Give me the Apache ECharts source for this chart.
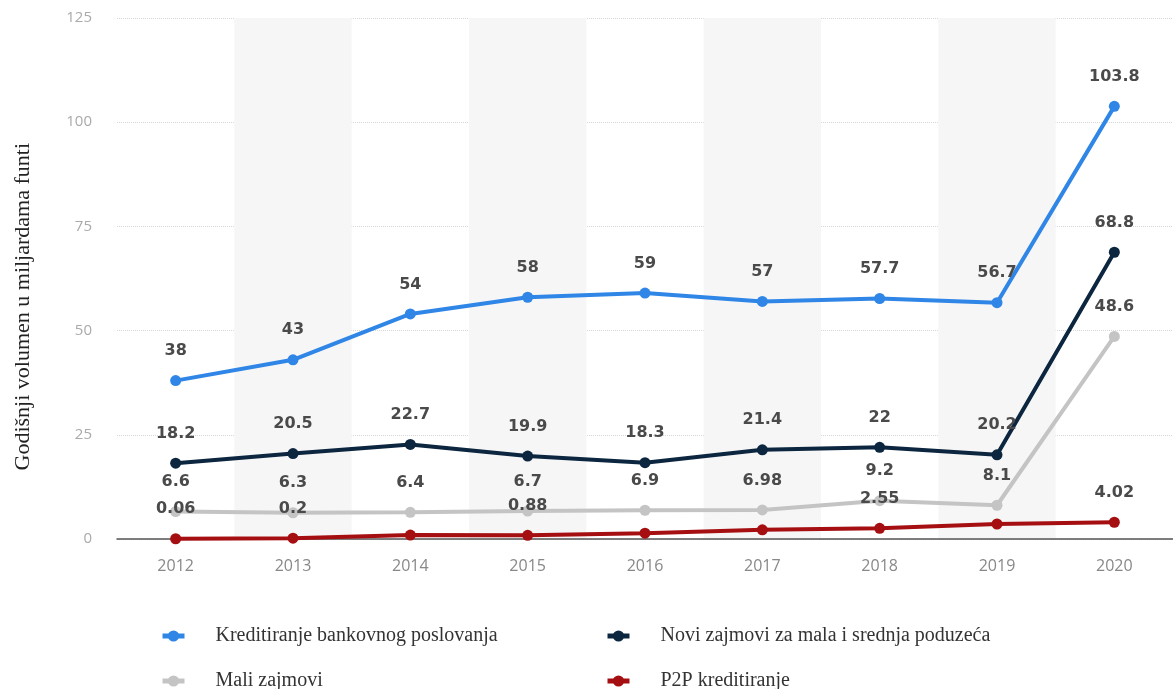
<!DOCTYPE html>
<html>
<head>
<meta charset="utf-8">
<script src="https://cdn.jsdelivr.net/npm/echarts@6/dist/echarts.min.js"></script>
<style>
  html, body { margin: 0; padding: 0; background: #fff; }
  #chart { width: 1173px; height: 689px; }
</style>
</head>
<body>
<div id="chart"></div>
<script>
// godine
var years = ['2012', '2013', '2014', '2015', '2016', '2017', '2018', '2019', '2020'];

// vrijednosti po seriji (milijarde funti)
var bankovno = [38, 43, 54, 58, 59, 57, 57.7, 56.7, 103.8];
var msp = [18.2, 20.5, 22.7, 19.9, 18.3, 21.4, 22, 20.2, 68.8];
var maliZajmovi = [6.6, 6.3, 6.4, 6.7, 6.9, 6.98, 9.2, 8.1, 48.6];
var p2p = [0.06, 0.2, 0.95, 0.88, 1.4, 2.2, 2.55, 3.6, 4.02];
// koje oznake P2P serije su vidljive na slici
var p2pLabelShown = [true, true, false, true, false, false, true, false, true];

var seriesNames = [
    'Kreditiranje bankovnog poslovanja',
    'Novi zajmovi za mala i srednja poduzeća',
    'Mali zajmovi',
    'P2P kreditiranje'
];
var seriesColors = ['#2f86e6', '#0c2640', '#c4c4c4', '#a50f12'];

var labelStyle = {
    show: true,
    position: 'top',
    distance: 16,
    color: '#4a4a4a',
    fontFamily: 'DejaVu Sans',
    fontWeight: 'bold',
    fontSize: 16
};

function makeSeries(name, color, values, shown) {
    return {
        name: name,
        type: 'line',
        data: values.map(function(v, i) {
            var item = { value: v };
            if (shown && !shown[i]) {
                item.label = { show: false };
            }
            return item;
        }),
        symbol: 'circle',
        symbolSize: 11,
        lineStyle: { color: color, width: 4 },
        itemStyle: { color: color },
        label: labelStyle,
        labelLayout: { hideOverlap: false },
        animation: false
    };
}

// jedna legenda po stavci, raspored 2x2
function makeLegend(name, left, top) {
    return {
        orient: 'horizontal',
        left: left,
        top: top,
        padding: 0,
        itemWidth: 22,
        itemHeight: 14,
        lineStyle: { width: 5 },
        textStyle: {
            fontFamily: 'Liberation Serif',
            fontSize: 20,
            color: '#333',
            padding: [0, 0, 0, 26]
        },
        data: [name]
    };
}

var chart = echarts.init(document.getElementById('chart'));

var option = {
    animation: false,
    grid: { left: 117, right: 0, top: 18, bottom: 150 },
    xAxis: {
        type: 'category',
        data: years,
        boundaryGap: true,
        axisLine: { lineStyle: { color: '#555', width: 1.5 } },
        axisTick: { show: false },
        axisLabel: { color: '#888', fontFamily: 'Open Sans', fontSize: 16, margin: 19 },
        splitArea: { show: true, areaStyle: { color: ['rgba(0,0,0,0)', '#f6f6f6'] } }
    },
    yAxis: {
        type: 'value',
        min: 0,
        max: 125,
        interval: 25,
        axisLine: { show: false },
        axisTick: { show: false },
        axisLabel: { color: '#aaa', fontFamily: 'Open Sans', fontSize: 15, margin: 25 },
        splitLine: { lineStyle: { color: '#d6d6d6', type: 'dotted' } }
    },
    legend: [
        makeLegend(seriesNames[0], 160, 626),
        makeLegend(seriesNames[1], 605, 626),
        makeLegend(seriesNames[2], 160, 671),
        makeLegend(seriesNames[3], 605, 671)
    ],
    graphic: [{
        type: 'text',
        left: 12,
        top: 143,
        rotation: Math.PI / 2,
        style: {
            text: 'Godišnji volumen u miljardama funti',
            font: '22px "Liberation Serif"',
            fill: '#222'
        }
    }],
    series: [
        makeSeries(seriesNames[0], seriesColors[0], bankovno),
        makeSeries(seriesNames[1], seriesColors[1], msp),
        makeSeries(seriesNames[2], seriesColors[2], maliZajmovi),
        makeSeries(seriesNames[3], seriesColors[3], p2p, p2pLabelShown)
    ]
};

chart.setOption(option);
</script>
</body>
</html>
